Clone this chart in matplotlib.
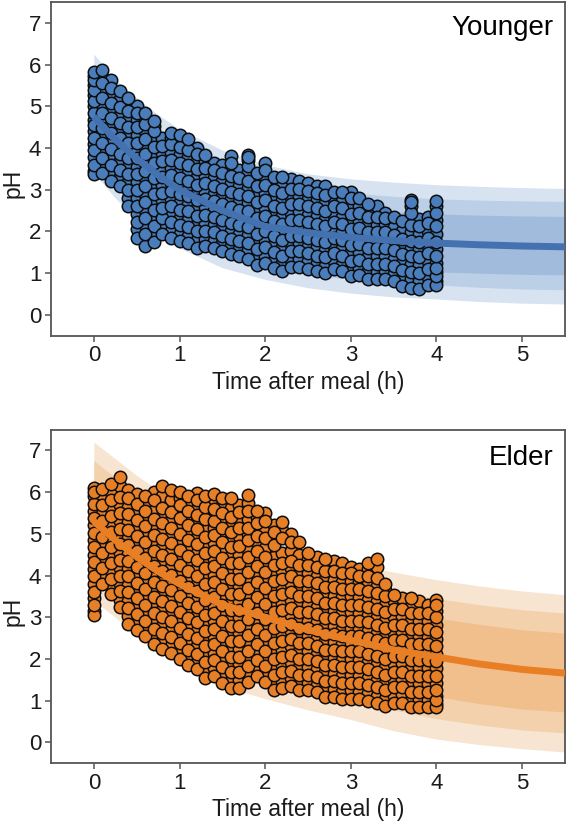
import matplotlib
matplotlib.use('Agg')
import matplotlib.pyplot as plt

plt.rcParams['font.family'] = ['Liberation Sans', 'DejaVu Sans']

# Curve knots (h)
curve_time = [0, 0.25, 0.5, 0.75, 1, 1.5, 2, 2.5, 3, 3.5, 4, 4.5, 5, 5.5]

# Younger: median and three interval bands
y_median = [4.75, 4.2, 3.75, 3.35, 3.0, 2.5, 2.12, 1.97, 1.86, 1.78, 1.72, 1.68, 1.65, 1.63]
y_upper90 = [6.25, 5.65, 5.2, 4.8, 4.45, 3.95, 3.6, 3.38, 3.26, 3.18, 3.12, 3.08, 3.05, 3.03]
y_lower90 = [3.4, 2.8, 2.3, 1.9, 1.6, 1.13, 0.85, 0.65, 0.52, 0.43, 0.38, 0.32, 0.28, 0.26]
y_upper80 = [5.9, 5.3, 4.85, 4.45, 4.1, 3.6, 3.25, 3.05, 2.93, 2.84, 2.78, 2.75, 2.73, 2.72]
y_lower80 = [3.7, 3.1, 2.6, 2.2, 1.9, 1.43, 1.15, 0.96, 0.85, 0.76, 0.72, 0.66, 0.62, 0.6]
y_upper50 = [5.5, 4.95, 4.5, 4.1, 3.75, 3.25, 2.88, 2.68, 2.56, 2.47, 2.42, 2.39, 2.37, 2.36]
y_lower50 = [4.0, 3.45, 2.95, 2.55, 2.25, 1.78, 1.48, 1.3, 1.18, 1.08, 1.03, 1.0, 0.97, 0.96]

# Elder: median and three interval bands
e_median = [5.3, 4.85, 4.45, 4.1, 3.8, 3.3, 3.0, 2.7, 2.45, 2.22, 2.05, 1.88, 1.75, 1.66]
e_upper90 = [7.2, 6.8, 6.4, 6.05, 5.75, 5.3, 4.9, 4.55, 4.3, 4.08, 3.9, 3.75, 3.63, 3.54]
e_lower90 = [3.4, 3.0, 2.6, 2.2, 1.85, 1.35, 1.05, 0.78, 0.55, 0.28, 0.08, -0.05, -0.15, -0.23]
e_upper80 = [6.75, 6.35, 5.95, 5.6, 5.3, 4.8, 4.45, 4.1, 3.85, 3.62, 3.45, 3.3, 3.18, 3.1]
e_lower80 = [3.85, 3.45, 3.05, 2.65, 2.3, 1.8, 1.5, 1.25, 1.02, 0.78, 0.57, 0.42, 0.3, 0.23]
e_upper50 = [6.3, 5.9, 5.5, 5.15, 4.85, 4.35, 4.0, 3.65, 3.4, 3.15, 2.98, 2.83, 2.7, 2.62]
e_lower50 = [4.3, 3.9, 3.5, 3.1, 2.75, 2.25, 1.95, 1.7, 1.5, 1.28, 1.1, 0.93, 0.8, 0.73]

# Sampling times of the observed points
obs_time = [0, 0.1, 0.2, 0.3, 0.4, 0.5, 0.6, 0.7, 0.8, 0.9,
            1.0, 1.1, 1.2, 1.3, 1.4, 1.5, 1.6, 1.7, 1.8, 1.9,
            2.0, 2.1, 2.2, 2.3, 2.4, 2.5, 2.6, 2.7, 2.8, 2.9,
            3.0, 3.1, 3.2, 3.3, 3.4, 3.5, 3.6, 3.7, 3.8, 3.9, 4.0]

younger_ph = [
    [3.37, 3.45, 3.6, 3.78, 3.95, 4.1, 4.25, 4.4, 4.55, 4.68, 4.85, 5.0, 5.12, 5.28, 5.4, 5.52, 5.62, 5.72, 5.82],
    [3.4, 3.58, 3.75, 3.95, 4.12, 4.3, 4.48, 4.65, 4.85, 5.02, 5.2, 5.38, 5.55, 5.7, 5.87],
    [3.2, 3.4, 3.6, 3.78, 3.98, 4.15, 4.35, 4.52, 4.72, 4.9, 5.08, 5.25, 5.45, 5.64],
    [3.1, 3.3, 3.48, 3.68, 3.85, 4.05, 4.25, 4.42, 4.6, 4.8, 4.98, 5.18, 5.36],
    [2.6, 2.8, 3.0, 3.18, 3.38, 3.55, 3.75, 3.95, 4.12, 4.32, 4.5, 4.68, 4.88, 5.05, 5.2],
    [1.85, 2.05, 2.22, 2.42, 2.6, 2.8, 3.0, 3.18, 3.38, 3.55, 3.75, 3.92, 4.12, 4.3, 4.5, 4.68, 4.85, 5.0],
    [1.64, 1.75, 1.95, 2.15, 2.32, 2.52, 2.7, 2.9, 3.08, 3.28, 3.45, 3.65, 3.85, 4.02, 4.22, 4.4, 4.58, 4.72, 4.85],
    [1.75, 1.95, 2.12, 2.32, 2.52, 2.7, 2.9, 3.08, 3.28, 3.45, 3.65, 3.82, 4.02, 4.2, 4.4, 4.52, 4.64],
    [1.95, 2.15, 2.32, 2.38, 2.55, 2.75, 2.92, 3.12, 3.3, 3.5, 3.68, 3.88, 4.05, 4.25],
    [1.85, 2.02, 2.22, 2.4, 2.6, 2.78, 2.98, 3.15, 3.35, 3.52, 3.72, 3.9, 4.1, 4.25, 4.37],
    [1.76, 1.95, 2.15, 2.32, 2.52, 2.7, 2.9, 3.08, 3.28, 3.45, 3.65, 3.85, 4.02, 4.18, 4.32],
    [1.72, 1.9, 2.1, 2.28, 2.48, 2.65, 2.85, 3.02, 3.22, 3.4, 3.6, 3.78, 3.95, 4.08, 4.22],
    [1.6, 1.8, 2.0, 2.18, 2.38, 2.55, 2.75, 2.92, 3.12, 3.3, 3.5, 3.68, 3.85, 4.0],
    [1.65, 1.82, 2.02, 2.2, 2.4, 2.58, 2.78, 2.95, 3.15, 3.32, 3.52, 3.7, 3.84],
    [1.6, 1.78, 1.98, 2.15, 2.35, 2.52, 2.72, 2.9, 3.1, 3.28, 3.48, 3.65],
    [1.52, 1.72, 1.9, 2.1, 2.28, 2.48, 2.65, 2.85, 3.02, 3.22, 3.4, 3.6],
    [1.45, 1.65, 1.82, 2.02, 2.2, 2.4, 2.58, 2.78, 2.95, 3.15, 3.32, 3.5, 3.65, 3.8],
    [1.4, 1.58, 1.78, 1.95, 2.15, 2.32, 2.52, 2.7, 2.9, 3.08, 3.28, 3.48],
    [1.35, 1.55, 1.72, 1.92, 2.1, 2.3, 2.48, 2.68, 2.85, 3.05, 3.22, 3.42, 3.58, 3.72, 3.78, 3.84],
    [1.2, 1.4, 1.58, 1.78, 1.95, 2.15, 2.32, 2.52, 2.7, 2.9, 3.08, 3.25, 3.41],
    [1.25, 1.42, 1.62, 1.8, 2.0, 2.18, 2.38, 2.55, 2.75, 2.92, 3.12, 3.3, 3.48, 3.65],
    [1.13, 1.32, 1.5, 1.7, 1.88, 2.08, 2.25, 2.45, 2.62, 2.82, 3.0, 3.18, 3.3],
    [1.05, 1.25, 1.42, 1.62, 1.8, 2.0, 2.18, 2.38, 2.55, 2.75, 2.92, 3.12, 3.3],
    [1.15, 1.32, 1.52, 1.7, 1.9, 2.08, 2.28, 2.45, 2.65, 2.82, 3.02, 3.25],
    [1.15, 1.35, 1.52, 1.72, 1.9, 2.1, 2.28, 2.48, 2.65, 2.85, 3.02, 3.2],
    [1.1, 1.28, 1.48, 1.65, 1.85, 2.02, 2.22, 2.4, 2.6, 2.78, 2.98, 3.15],
    [1.05, 1.25, 1.42, 1.62, 1.8, 2.0, 2.18, 2.38, 2.55, 2.75, 2.92, 3.1],
    [1.0, 1.18, 1.38, 1.55, 1.75, 1.92, 2.12, 2.3, 2.5, 2.68, 2.88, 3.1],
    [1.1, 1.28, 1.48, 1.65, 1.85, 2.02, 2.22, 2.4, 2.6, 2.78, 2.95],
    [1.05, 1.22, 1.42, 1.6, 1.8, 1.98, 2.18, 2.35, 2.55, 2.72, 2.95],
    [0.92, 1.12, 1.3, 1.5, 1.68, 1.88, 2.05, 2.25, 2.42, 2.62, 2.8, 2.95],
    [0.95, 1.12, 1.32, 1.5, 1.7, 1.88, 2.08, 2.25, 2.45, 2.62, 2.8],
    [0.85, 1.05, 1.22, 1.42, 1.6, 1.8, 1.98, 2.18, 2.35, 2.55, 2.65],
    [0.85, 1.02, 1.22, 1.4, 1.6, 1.78, 1.98, 2.15, 2.35, 2.6],
    [0.85, 1.05, 1.22, 1.42, 1.6, 1.8, 1.98, 2.18, 2.32, 2.45],
    [0.8, 0.98, 1.18, 1.35, 1.55, 1.72, 1.92, 2.1, 2.35],
    [0.7, 0.88, 1.08, 1.25, 1.45, 1.62, 1.82, 2.0, 2.25],
    [0.65, 0.85, 1.02, 1.22, 1.4, 1.6, 1.78, 1.98, 2.15, 2.3, 2.45, 2.6, 2.7, 2.76],
    [0.62, 0.82, 1.0, 1.2, 1.38, 1.58, 1.75, 1.95, 2.12, 2.3],
    [0.72, 0.9, 1.1, 1.28, 1.48, 1.65, 1.85, 2.02, 2.2, 2.35],
    [0.72, 0.8, 0.92, 1.02, 1.12, 1.25, 1.4, 1.58, 1.75, 1.95, 2.12, 2.28, 2.45, 2.6, 2.72],
]

elder_ph = [
    [3.05, 3.15, 3.3, 3.45, 3.6, 3.8, 3.98, 4.15, 4.32, 4.5, 4.68, 4.85, 5.02, 5.2, 5.38, 5.55, 5.72, 5.9, 6.0, 6.1],
    [3.8, 3.98, 4.18, 4.35, 4.55, 4.72, 4.92, 5.1, 5.3, 5.48, 5.68, 5.88, 6.08],
    [3.55, 3.75, 3.92, 4.12, 4.3, 4.5, 4.68, 4.88, 5.05, 5.25, 5.42, 5.62, 5.8, 6.0, 6.2],
    [3.25, 3.42, 3.62, 3.8, 4.0, 4.18, 4.38, 4.55, 4.75, 4.92, 5.12, 5.3, 5.5, 5.68, 5.88, 6.15, 6.35],
    [2.85, 3.02, 3.22, 3.4, 3.6, 3.78, 3.98, 4.15, 4.35, 4.52, 4.72, 4.9, 5.1, 5.28, 5.48, 5.65, 5.85, 6.06],
    [2.7, 2.9, 3.08, 3.28, 3.45, 3.65, 3.82, 4.02, 4.2, 4.4, 4.58, 4.78, 4.95, 5.15, 5.32, 5.52, 5.72, 5.95],
    [2.55, 2.72, 2.92, 3.1, 3.3, 3.48, 3.68, 3.85, 4.05, 4.22, 4.42, 4.6, 4.8, 4.98, 5.18, 5.35, 5.55, 5.75, 5.9],
    [2.35, 2.55, 2.72, 2.92, 3.1, 3.3, 3.48, 3.68, 3.85, 4.05, 4.22, 4.42, 4.6, 4.8, 4.98, 5.18, 5.35, 5.55, 5.8, 6.0],
    [2.25, 2.42, 2.62, 2.8, 3.0, 3.18, 3.38, 3.55, 3.75, 3.92, 4.12, 4.3, 4.5, 4.68, 4.88, 5.05, 5.25, 5.42, 5.62, 5.9, 6.14],
    [2.15, 2.32, 2.52, 2.7, 2.9, 3.08, 3.28, 3.45, 3.65, 3.82, 4.02, 4.2, 4.4, 4.58, 4.78, 4.95, 5.15, 5.32, 5.52, 5.8, 6.06],
    [2.0, 2.18, 2.38, 2.55, 2.75, 2.92, 3.12, 3.3, 3.5, 3.68, 3.88, 4.05, 4.25, 4.42, 4.62, 4.8, 5.0, 5.18, 5.38, 5.55, 5.7, 5.85, 6.0],
    [1.85, 2.05, 2.22, 2.42, 2.6, 2.8, 2.98, 3.18, 3.35, 3.55, 3.72, 3.92, 4.1, 4.3, 4.48, 4.68, 4.85, 5.05, 5.22, 5.4, 5.55, 5.72, 5.9],
    [1.75, 1.92, 2.12, 2.3, 2.5, 2.68, 2.88, 3.05, 3.25, 3.42, 3.62, 3.8, 4.0, 4.18, 4.38, 4.55, 4.75, 4.92, 5.12, 5.3, 5.45, 5.6, 5.8, 5.99],
    [1.55, 1.75, 1.92, 2.12, 2.3, 2.5, 2.68, 2.88, 3.05, 3.25, 3.42, 3.62, 3.8, 4.0, 4.18, 4.38, 4.55, 4.75, 4.92, 5.12, 5.35, 5.5, 5.65, 5.78, 5.9],
    [1.6, 1.78, 1.98, 2.15, 2.35, 2.52, 2.72, 2.9, 3.1, 3.28, 3.48, 3.65, 3.85, 4.02, 4.22, 4.4, 4.6, 4.78, 4.98, 5.15, 5.3, 5.45, 5.6, 5.8, 5.95],
    [1.42, 1.6, 1.8, 1.98, 2.18, 2.35, 2.55, 2.72, 2.92, 3.1, 3.3, 3.48, 3.68, 3.85, 4.05, 4.22, 4.42, 4.6, 4.8, 5.0, 5.15, 5.3, 5.5, 5.7, 5.85],
    [1.3, 1.48, 1.68, 1.85, 2.05, 2.22, 2.42, 2.6, 2.8, 2.98, 3.18, 3.35, 3.55, 3.72, 3.92, 4.1, 4.3, 4.48, 4.68, 4.88, 5.05, 5.2, 5.4, 5.62, 5.85],
    [1.3, 1.5, 1.68, 1.88, 2.05, 2.25, 2.42, 2.62, 2.8, 3.0, 3.18, 3.38, 3.55, 3.75, 3.92, 4.12, 4.3, 4.5, 4.7, 4.95, 5.15, 5.35, 5.52, 5.7],
    [1.45, 1.62, 1.82, 2.0, 2.2, 2.38, 2.58, 2.75, 2.95, 3.12, 3.32, 3.5, 3.7, 3.88, 4.08, 4.25, 4.45, 4.62, 4.85, 5.0, 5.15, 5.35, 5.55, 5.75, 5.92],
    [1.6, 1.78, 1.98, 2.15, 2.35, 2.52, 2.72, 2.9, 3.1, 3.28, 3.48, 3.65, 3.85, 4.02, 4.22, 4.4, 4.6, 4.8, 4.95, 5.05, 5.25, 5.4, 5.55],
    [1.45, 1.65, 1.82, 2.02, 2.2, 2.4, 2.58, 2.78, 2.95, 3.15, 3.32, 3.52, 3.7, 3.9, 4.08, 4.28, 4.45, 4.65, 4.9, 5.1, 5.3, 5.5],
    [1.25, 1.42, 1.62, 1.8, 2.0, 2.18, 2.38, 2.55, 2.75, 2.92, 3.12, 3.3, 3.5, 3.68, 3.88, 4.05, 4.25, 4.45, 4.72, 4.95, 5.05, 5.2],
    [1.3, 1.48, 1.68, 1.85, 2.05, 2.22, 2.42, 2.6, 2.8, 2.98, 3.18, 3.35, 3.55, 3.72, 3.92, 4.1, 4.3, 4.55, 4.9, 5.1, 5.28],
    [1.35, 1.55, 1.72, 1.92, 2.1, 2.3, 2.48, 2.68, 2.85, 3.05, 3.22, 3.42, 3.6, 3.8, 3.98, 4.18, 4.35, 4.6, 4.8, 5.0],
    [1.25, 1.42, 1.62, 1.8, 2.0, 2.18, 2.38, 2.55, 2.75, 2.92, 3.12, 3.3, 3.5, 3.68, 3.88, 4.05, 4.25, 4.5, 4.8],
    [1.25, 1.42, 1.62, 1.8, 2.0, 2.18, 2.38, 2.55, 2.75, 2.92, 3.12, 3.3, 3.5, 3.68, 3.88, 4.05, 4.25, 4.4, 4.55],
    [1.2, 1.38, 1.58, 1.75, 1.95, 2.12, 2.32, 2.5, 2.7, 2.88, 3.08, 3.25, 3.45, 3.62, 3.82, 4.0, 4.2, 4.45],
    [1.1, 1.3, 1.48, 1.68, 1.85, 2.05, 2.22, 2.42, 2.6, 2.8, 2.98, 3.18, 3.35, 3.55, 3.72, 3.92, 4.1, 4.25, 4.4],
    [1.1, 1.28, 1.48, 1.65, 1.85, 2.02, 2.22, 2.4, 2.6, 2.78, 2.98, 3.15, 3.35, 3.52, 3.72, 3.9, 4.1, 4.35],
    [1.05, 1.22, 1.42, 1.6, 1.8, 1.98, 2.18, 2.35, 2.55, 2.72, 2.92, 3.1, 3.3, 3.48, 3.68, 3.85, 4.05, 4.3],
    [1.05, 1.25, 1.42, 1.62, 1.8, 2.0, 2.18, 2.38, 2.55, 2.75, 2.92, 3.12, 3.3, 3.5, 3.68, 3.88, 4.05, 4.2],
    [1.05, 1.22, 1.42, 1.6, 1.8, 1.98, 2.18, 2.35, 2.55, 2.72, 2.92, 3.1, 3.3, 3.48, 3.68, 3.85, 4.0, 4.15],
    [1.0, 1.18, 1.38, 1.55, 1.75, 1.92, 2.12, 2.3, 2.5, 2.68, 2.88, 3.05, 3.25, 3.42, 3.62, 3.8, 4.0, 4.15, 4.3],
    [0.95, 1.12, 1.32, 1.5, 1.7, 1.88, 2.08, 2.25, 2.45, 2.62, 2.82, 3.0, 3.2, 3.38, 3.58, 3.75, 3.95, 4.2, 4.4],
    [0.87, 1.05, 1.25, 1.42, 1.62, 1.8, 2.0, 2.18, 2.38, 2.55, 2.75, 2.92, 3.12, 3.3, 3.5, 3.65, 3.8],
    [0.95, 1.12, 1.32, 1.5, 1.7, 1.88, 2.08, 2.25, 2.45, 2.62, 2.82, 3.0, 3.2, 3.38, 3.54],
    [0.95, 1.15, 1.32, 1.52, 1.7, 1.9, 2.08, 2.28, 2.45, 2.65, 2.82, 3.02, 3.2, 3.45],
    [0.85, 1.02, 1.22, 1.4, 1.6, 1.78, 1.98, 2.15, 2.35, 2.52, 2.72, 2.9, 3.1, 3.28, 3.45],
    [0.85, 1.05, 1.22, 1.42, 1.6, 1.8, 1.98, 2.18, 2.35, 2.55, 2.72, 2.92, 3.1, 3.4],
    [0.85, 1.02, 1.22, 1.4, 1.6, 1.78, 1.98, 2.15, 2.35, 2.52, 2.72, 2.9, 3.1, 3.3],
    [0.85, 0.92, 1.02, 1.12, 1.25, 1.42, 1.6, 1.78, 1.95, 2.12, 2.3, 2.48, 2.65, 2.82, 3.0, 3.15, 3.3, 3.42],
]

x_ticks = [0, 1, 2, 3, 4, 5]
y_ticks = [0, 1, 2, 3, 4, 5, 6, 7]

W, H = 566, 823
fig = plt.figure(figsize=(W / 100, H / 100), dpi=100)


def draw_panel(box, ph, bands, median, point_color, line_color, band_colors, name, name_y):
    left, top, right, bottom = box
    ax = fig.add_axes([left / W, 1 - bottom / H, (right - left) / W, (bottom - top) / H])

    for (upper, lower), c in zip(bands, band_colors):
        ax.fill_between(curve_time, lower, upper, color=c, lw=0, zorder=1)

    # two passes over every column so whole circles sit on top of others
    for start in (1, 0):
        for t, column in zip(obs_time, ph):
            values = column[start::2]
            ax.scatter([t] * len(values), values, s=80, c=point_color, edgecolors='#0d0d0d',
                       linewidths=1.1, zorder=2, clip_on=False)

    ax.plot(curve_time, median, color=line_color, lw=5, zorder=3, solid_capstyle='butt')

    ax.set_xlim(-0.5, 5.5)
    ax.set_ylim(-0.5, 7.5)
    ax.set_xticks(x_ticks)
    ax.set_yticks(y_ticks)
    ax.tick_params(labelsize=16, length=4, width=1.1, color='#555555', labelcolor='#1a1a1a', pad=3)
    ax.set_xlabel('Time after meal (h)', fontsize=16.5, color='#1a1a1a')
    ax.set_ylabel('pH', fontsize=16.5, color='#1a1a1a')
    ax.xaxis.set_label_coords(0.5, -0.105)
    ax.yaxis.set_label_coords(-0.051, 0.455)
    for spine in ax.spines.values():
        spine.set_color('#555555')
        spine.set_linewidth(1.3)
    ax.text(0.978, name_y, name, transform=ax.transAxes, ha='right', va='top', fontsize=20, color='black')


draw_panel((51, 2, 565, 335.7), younger_ph,
           [(y_upper90, y_lower90), (y_upper80, y_lower80), (y_upper50, y_lower50)],
           y_median, '#4a7dbb', '#4471b0', ['#d7e3f1', '#bbcfe6', '#a0bbdc'], 'Younger', 0.962)
draw_panel((51, 429.5, 565, 763.3), elder_ph,
           [(e_upper90, e_lower90), (e_upper80, e_lower80), (e_upper50, e_lower50)],
           e_median, '#e77f26', '#e97f24', ['#f7e4d1', '#f3d1ac', '#f0bf8c'], 'Elder', 0.955)

fig.savefig('out.png', dpi=100)
